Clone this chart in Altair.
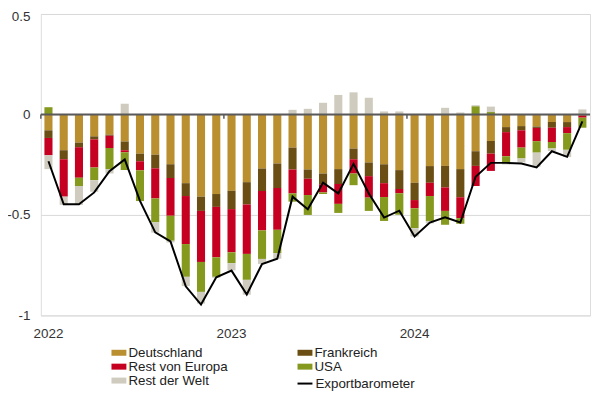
import altair as alt
import pandas as pd

FONT = "Liberation Sans"

years = [2022, 2023, 2024]
months = [f"{y}-{m:02d}" for y in years for m in range(1, 13)]

deutschland = [-0.079, -0.178, -0.140, -0.109, -0.101, -0.135, -0.195, -0.200, -0.248, -0.342, -0.409, -0.396,
               -0.380, -0.337, -0.269, -0.244, -0.165, -0.274, -0.294, -0.272, -0.170, -0.239, -0.248, -0.277,
               -0.340, -0.257, -0.256, -0.272, -0.183, -0.132, -0.063, -0.058, -0.060, -0.038, -0.038, -0.003]
frankreich = [-0.038, -0.045, -0.023, -0.015, -0.005, -0.043, -0.038, -0.068, -0.068, -0.064, -0.071, -0.064,
              -0.091, -0.111, -0.112, -0.122, -0.109, -0.046, -0.053, -0.074, -0.053, -0.068, -0.094, -0.094,
              -0.086, -0.083, -0.107, -0.140, -0.073, -0.063, -0.025, -0.021, -0.007, -0.028, -0.025, -0.003]
rest_europa = [-0.086, -0.186, -0.152, -0.140, -0.061, -0.010, -0.045, -0.150, -0.188, -0.239, -0.254, -0.251,
               -0.215, -0.246, -0.196, -0.208, -0.119, -0.081, -0.041, -0.099, -0.071, -0.107, -0.069, -0.021,
               -0.041, -0.066, -0.117, -0.104, -0.100, -0.086, -0.120, -0.086, -0.066, -0.071, -0.030, -0.010]
usa = [0.036, 0.0, -0.041, -0.063, -0.104, -0.089, -0.153, -0.119, -0.125, -0.163, -0.149, -0.097,
       -0.054, -0.129, -0.142, -0.116, -0.041, -0.099, -0.008, -0.045, -0.058, -0.066, -0.119, -0.107,
       -0.099, -0.124, -0.069, -0.028, 0.041, 0.012, -0.036, -0.054, -0.057, -0.033, -0.083, -0.050]
rest_welt = [-0.069, -0.041, -0.094, -0.058, -0.023, 0.053, 0.0, -0.051, -0.008, -0.046, -0.058, -0.005,
             -0.036, -0.074, -0.025, -0.028, 0.023, 0.028, 0.058, 0.097, 0.110, 0.083, 0.015, 0.015,
             -0.041, -0.012, 0.033, 0.010, 0.005, 0.027, -0.005, -0.020, -0.070, -0.012, -0.036, 0.025]
exportbarometer = [-0.233, -0.447, -0.447, -0.388, -0.282, -0.224, -0.430, -0.587, -0.632, -0.855, -0.946, -0.810,
                   -0.777, -0.896, -0.744, -0.718, -0.409, -0.472, -0.340, -0.393, -0.246, -0.393, -0.513, -0.479,
                   -0.607, -0.538, -0.512, -0.538, -0.310, -0.241, -0.241, -0.244, -0.264, -0.183, -0.211, -0.035]

# stacking order (nearest zero first)
series_names = ["Deutschland", "Frankreich", "Rest von Europa", "USA", "Rest der Welt"]
series_values = [deutschland, frankreich, rest_europa, usa, rest_welt]
# legend order (column-major, two columns)
legend_names = ["Deutschland", "Rest von Europa", "Rest der Welt", "Frankreich", "USA"]
legend_colors = ["#BA8F30", "#C50021", "#CFCCBF", "#6B4E14", "#86991F"]

rows = []
for k, (name, vals) in enumerate(zip(series_names, series_values)):
    for m, v in zip(months, vals):
        rows.append({"month": m, "series": name, "value": v, "order": k})
bars_df = pd.DataFrame(rows)
line_df = pd.DataFrame({"month": months, "value": exportbarometer, "name": "Exportbarometer"})
year_starts = [f"{y}-01" for y in years]
ticks_df = pd.DataFrame({"month": year_starts})
zero_df = pd.DataFrame({"y": [0]})

x_scale = alt.Scale(domain=months, paddingInner=0.47, paddingOuter=0.235)
x_axis = alt.Axis(values=year_starts, labelExpr="slice(datum.value, 0, 4)", title=None,
                  domain=False, ticks=False, tickSize=0, labelPadding=11, labelAngle=0,
                  grid=False, labelFontSize=13.5, labelColor="#333333", labelFont=FONT)
y_scale = alt.Scale(domain=[-1, 0.5], nice=False, zero=False)
y_axis = alt.Axis(values=[-1, -0.5, 0, 0.5], labelExpr="datum.value + ''", title=None,
                  domain=False, ticks=False, tickSize=0, labelPadding=11, grid=True,
                  labelOffset={"condition": {"test": "datum.value == 0.5", "value": 3}, "value": 0},
                  gridColor="#d9d9d9", gridWidth=1, labelFontSize=13.5, labelColor="#333333", labelFont=FONT)

rect_path = "M-1,-0.4H1V0.4H-1Z"

bars = alt.Chart(bars_df).mark_bar().encode(
    x=alt.X("month:O", scale=x_scale, axis=x_axis),
    y=alt.Y("value:Q", scale=y_scale, axis=y_axis, stack="zero"),
    color=alt.Color("series:N", scale=alt.Scale(domain=legend_names, range=legend_colors),
                    legend=alt.Legend(title=None, orient="none", legendX=71, legendY=333,
                                      columns=2, columnPadding=70, rowPadding=0,
                                      symbolType=rect_path, symbolSize=225, symbolStrokeWidth=0,
                                      labelFontSize=13.4, labelFont=FONT, labelColor="#222222",
                                      labelOffset=2, padding=0)),
    order=alt.Order("order:Q", sort="ascending"),
)

zero_rule = alt.Chart(zero_df).mark_rule(color="#5a5a5a", strokeWidth=2).encode(y="y:Q")

ticks = alt.Chart(ticks_df).mark_rule(color="#5a5a5a", strokeWidth=1.5, xOffset=-3.6).encode(
    x=alt.X("month:O", bandPosition=0),
    y=alt.datum(0),
    y2=alt.datum(-0.022),
)

line = alt.Chart(line_df).mark_line(strokeWidth=2).encode(
    x="month:O",
    y="value:Q",
    stroke=alt.Stroke("name:N", scale=alt.Scale(domain=["Exportbarometer"], range=["#000000"]),
                      legend=alt.Legend(title=None, orient="none", legendX=257, legendY=363,
                                        symbolType="stroke", symbolSize=225, symbolStrokeWidth=2,
                                        labelFontSize=13.4, labelFont=FONT, labelColor="#222222",
                                        labelOffset=2, padding=0)),
)

chart = alt.layer(bars, zero_rule, ticks, line).properties(
    width=552, height=303,
    padding={"left": 33, "top": 5, "right": 2, "bottom": 78},
    autosize="none",
).configure_view(stroke=None).configure(font=FONT, background="white")

chart.save("out.html", embed_options={"renderer": "svg", "actions": False})
